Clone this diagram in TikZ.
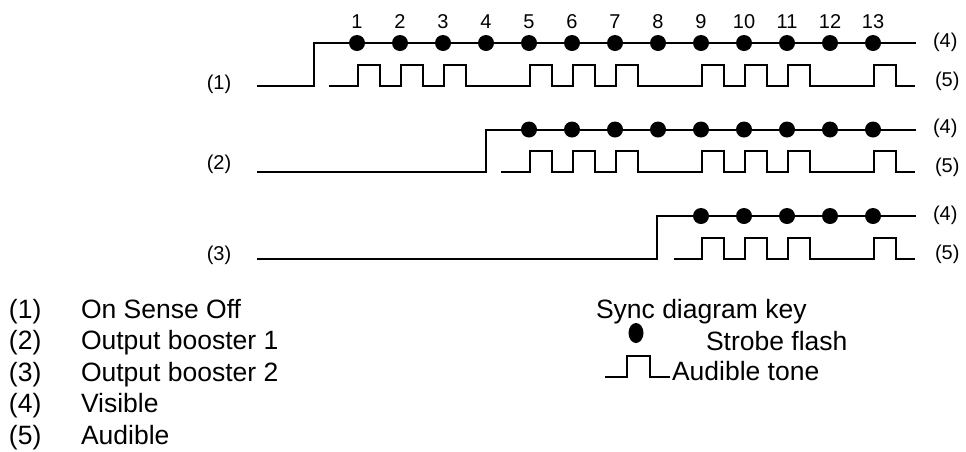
\documentclass[tikz,border=0pt]{standalone}
\usepackage{fontspec}
\setmainfont{Liberation Sans}
\usetikzlibrary{positioning}

\begin{document}
\begin{tikzpicture}[x=1pt, y=-1pt, line width=2pt,
    numtxt/.style={font=\fontsize{20}{24}\selectfont, inner sep=0pt},
    keytxt/.style={font=\fontsize{26.5}{30}\selectfont, inner sep=0pt, anchor=base west},
    flash/.style={circle, fill=black, inner sep=0pt, minimum size=16pt}]
	\useasboundingbox (0,0) rectangle (966,451);

	%% Numeros dos flashes
	\foreach \k in {1,...,13}
		\node [numtxt] (num\k) at ({357+43*(\k-1)},22) {\k};

	%% Linha (1): On Sense Off
	\node [numtxt] (in1) at (219,84) {(1)};
	\draw (257,85.5) -- (314,85.5) -- (314,43) -- (916,43);
	\foreach \k in {1,...,13}
		\node [flash] (fa\k) at ({357+43*(\k-1)},43) {};
	\draw (329,85.5) foreach \k in {1,2,3,5,6,7,9,10,11,13} {
		-- ({358+43*(\k-1)},85.5) -- ({358+43*(\k-1)},64.5)
		-- ({380+43*(\k-1)},64.5) -- ({380+43*(\k-1)},85.5) } -- (915,85.5);
	\node [numtxt, anchor=west] (vis1) at (932,42) {(4)};
	\node [numtxt, anchor=west] (aud1) at (934,81) {(5)};

	%% Linha (2): Output booster 1
	\node [numtxt] (in2) at (219,164) {(2)};
	\draw (257,172) -- (486,172) -- (486,129.5) -- (916,129.5);
	\foreach \k in {5,...,13}
		\node [flash] (fb\k) at ({357+43*(\k-1)},129.5) {};
	\draw (501,172) foreach \k in {5,6,7,9,10,11,13} {
		-- ({358+43*(\k-1)},172) -- ({358+43*(\k-1)},151)
		-- ({380+43*(\k-1)},151) -- ({380+43*(\k-1)},172) } -- (915,172);
	\node [numtxt, anchor=west] (vis2) at (932,128) {(4)};
	\node [numtxt, anchor=west] (aud2) at (934,167) {(5)};

	%% Linha (3): Output booster 2
	\node [numtxt] (in3) at (219,255) {(3)};
	\draw (257,258.5) -- (657,258.5) -- (657,216) -- (916,216);
	\foreach \k in {9,...,13}
		\node [flash] (fc\k) at ({357+43*(\k-1)},216) {};
	\draw (674,258.5) foreach \k in {9,10,11,13} {
		-- ({358+43*(\k-1)},258.5) -- ({358+43*(\k-1)},237.5)
		-- ({380+43*(\k-1)},237.5) -- ({380+43*(\k-1)},258.5) } -- (915,258.5);
	\node [numtxt, anchor=west] (vis3) at (932,215) {(4)};
	\node [numtxt, anchor=west] (aud3) at (934,254) {(5)};

	%% Legenda
	\node [keytxt] (k1) at (8,318) {(1)};
	\node [keytxt] (t1) at (80,318) {On Sense Off};
	\node [keytxt] (k2) at (8,349.5) {(2)};
	\node [keytxt] (t2) at (80,349.5) {Output booster 1};
	\node [keytxt] (k3) at (8,381) {(3)};
	\node [keytxt] (t3) at (80,381) {Output booster 2};
	\node [keytxt] (k4) at (8,412.5) {(4)};
	\node [keytxt] (t4) at (80,412.5) {Visible};
	\node [keytxt] (k5) at (8,444) {(5)};
	\node [keytxt] (t5) at (80,444) {Audible};

	%% Chave do diagrama
	\node [keytxt] (synckey) at (595,318) {Sync diagram key};
	\fill (636,333) ellipse [x radius=7.5, y radius=10];
	\node [keytxt] (strobe) at (705,350) {Strobe flash};
	\draw (605,377) -- (627,377) -- (627,356) -- (650,356) -- (650,377) -- (670,377);
	\node [keytxt] (tone) at (671,380) {Audible tone};
\end{tikzpicture}
\end{document}
